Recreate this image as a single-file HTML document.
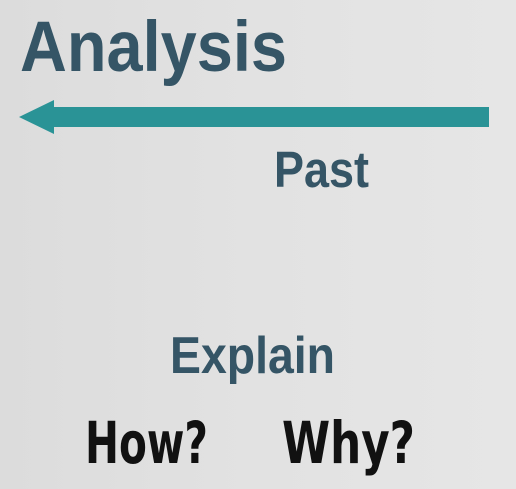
<!DOCTYPE html>
<html><head><style>
html,body{margin:0;padding:0;}
body{width:516px;height:489px;background:linear-gradient(90deg,#dcdcdc,#e2e2e2 50%,#e6e6e6);overflow:hidden;}
svg{display:block}
</style></head><body>
<svg width="516" height="489" viewBox="0 0 516 489">
<g font-family="Liberation Sans, sans-serif" font-weight="bold" fill="#355566">
<text x="20" y="71" font-size="71" textLength="267" lengthAdjust="spacingAndGlyphs">Analysis</text>
<text x="274" y="187" font-size="51" textLength="95" lengthAdjust="spacingAndGlyphs">Past</text>
<text x="170" y="373" font-size="52" textLength="165" lengthAdjust="spacingAndGlyphs">Explain</text>
</g>
<polygon points="19,117 54,100 54,107 489,107 489,127 54,127 54,134" fill="#2a9396"/>
<g font-family="DejaVu Sans, sans-serif" font-weight="bold" fill="#111">
<text x="85" y="463" font-size="58" textLength="123" lengthAdjust="spacingAndGlyphs">How?</text>
<text x="282" y="463" font-size="58" textLength="133" lengthAdjust="spacingAndGlyphs">Why?</text>
</g>
</svg>
</body></html>
